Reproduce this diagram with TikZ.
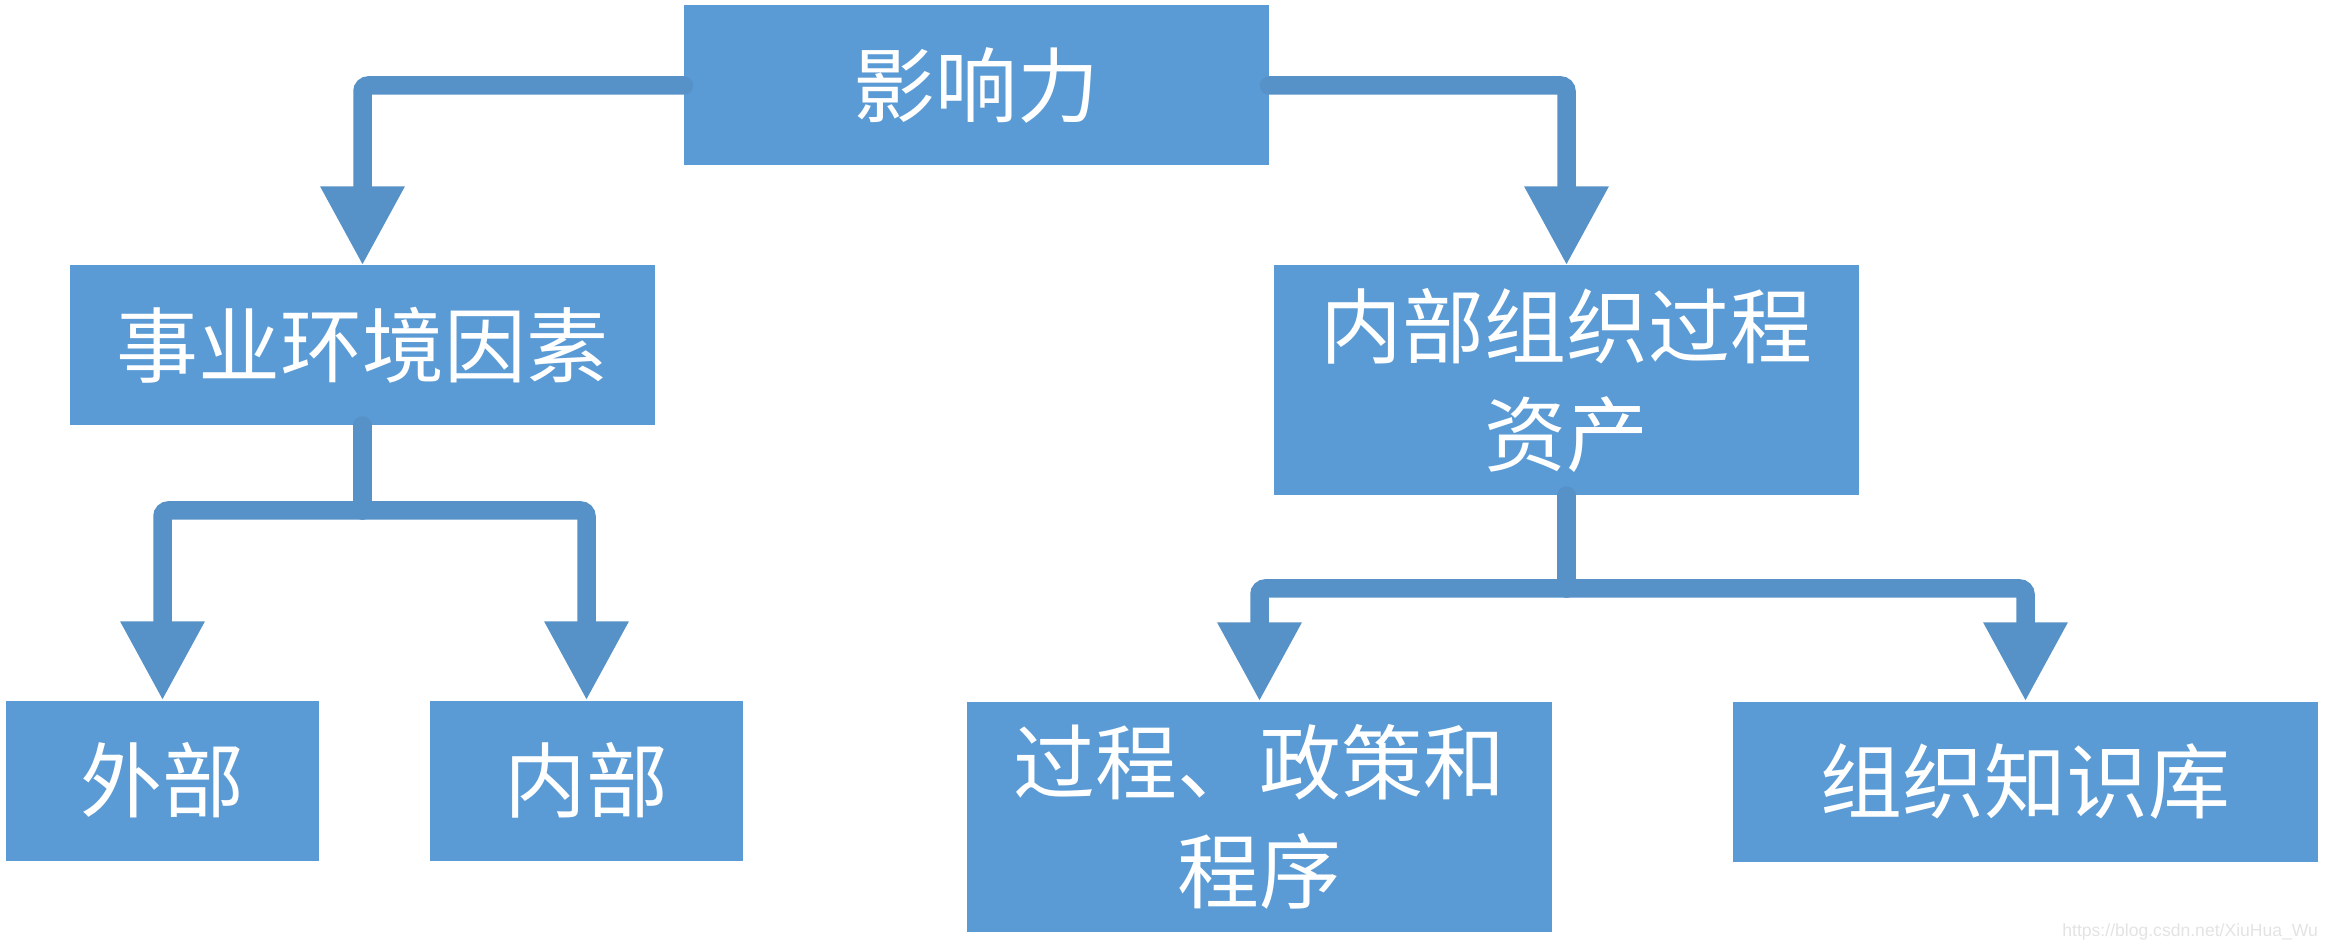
\documentclass[tikz,border=0pt]{standalone}
\usepackage{fontspec}
\newfontfamily\cjk{Noto Sans CJK SC}
\setsansfont{Liberation Sans}
\usetikzlibrary{arrows.meta, positioning}
\definecolor{boxblue}{HTML}{5B9BD5}
\definecolor{lineblue}{HTML}{5692C8}
\definecolor{markgray}{HTML}{E3E3E3}

\begin{document}
\begin{tikzpicture}[
  every node/.style={inner sep=0pt, outer sep=0pt, align=center},
  block/.style={fill=boxblue, text=white, minimum width=58.5mm, minimum height=16mm,
    font=\cjk\fontsize{23.3}{31}\selectfont},
  tall/.style={minimum height=23mm},
  narrow/.style={minimum width=31.3mm},
  link/.style={draw=lineblue, line width=1.85mm, line cap=round, rounded corners=0.6mm},
  arrow/.style={link, -{Triangle[length=7.9mm, width=7.9mm]}}
]
\useasboundingbox (0,0) rectangle (232.5mm,-95mm);

% Top level
\node[block] (influence) at (97.65mm,-8.55mm) {影响力};

% Second level
\node[block, below=10mm of influence, xshift=-61.4mm] (env_factors) {事业环境因素};
\node[block, tall, below=10mm of influence, xshift=59mm] (org_assets) {内部组织过程\\资产};

% Under env_factors
\node[block, narrow, below=27.5mm of env_factors, xshift=-20mm] (external) {外部};
\node[block, narrow, below=27.5mm of env_factors, xshift=22.4mm] (internal) {内部};

% Under org_assets
\node[block, tall, below=20.6mm of org_assets, xshift=-30.7mm] (processes) {过程、政策和\\程序};
\node[block, below=20.6mm of org_assets, xshift=45.9mm] (knowledge_base) {组织知识库};

% Bus points
\coordinate[below=8.5mm of env_factors] (env_bus);
\coordinate[below=9.3mm of org_assets] (org_bus);

% Arrows
\draw[arrow] (influence.west) -| (env_factors.north);
\draw[arrow] (influence.east) -| (org_assets.north);

\draw[link] (env_factors.south) -- (env_bus);
\draw[arrow] (env_bus) -| (external.north);
\draw[arrow] (env_bus) -| (internal.north);

\draw[link] (org_assets.south) -- (org_bus);
\draw[arrow] (org_bus) -| (processes.north);
\draw[arrow] (org_bus) -| (knowledge_base.north);

\node[anchor=south east, text=markgray, font=\sffamily\fontsize{5}{6}\selectfont] (watermark)
  at (231.8mm,-94mm) {https://blog.csdn.net/XiuHua\_Wu};

\end{tikzpicture}
\end{document}
